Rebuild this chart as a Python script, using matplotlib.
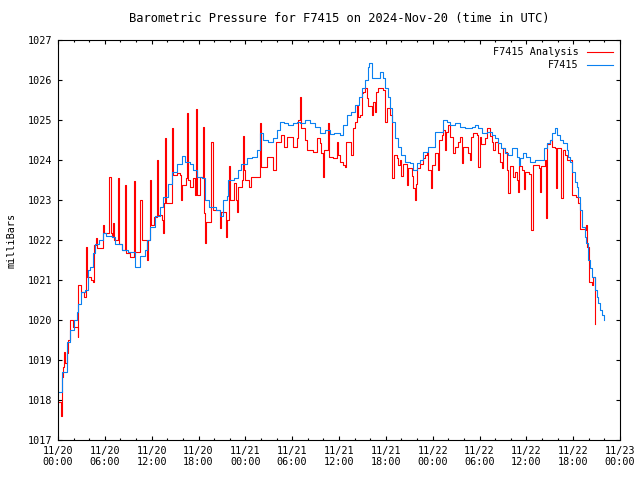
import matplotlib
matplotlib.use("Agg")
import matplotlib.pyplot as plt
from matplotlib.ticker import MultipleLocator

# hours since 2024-11-20 00:00 UTC, pressure in mb
station_hours = [0.0, 0.5, 1.1, 1.5, 2.0, 2.4, 2.6, 3.0, 3.5, 3.9, 4.1, 4.5, 4.7, 5.2, 5.8,
                 6.2, 6.9, 7.3, 8.2, 9.0, 9.9, 10.5, 11.1, 11.4, 11.8, 12.4, 13.1, 13.5, 14.1,
                 14.6, 15.2, 15.85, 16.3, 16.9, 17.3, 17.8, 18.4, 18.8, 19.3, 19.7, 20.3, 20.75,
                 21.2, 21.6, 21.8, 22.5, 23.1, 23.5, 24.2, 24.8, 25.45, 25.9, 26.3, 26.9, 27.6,
                 28.0, 28.4, 28.9, 29.5, 30.1, 30.6, 31.0, 31.6, 32.3, 32.9, 33.6, 34.2, 34.8,
                 35.4, 36.1, 36.5, 37.0, 37.6, 38.0, 38.5, 38.9, 39.3, 39.75, 39.9, 40.2, 40.8,
                 41.25, 41.7, 41.9, 42.3, 42.5, 42.75, 43.2, 43.6, 44.0, 44.45, 45.1, 45.5,
                 45.95, 46.4, 46.8, 47.4, 48.3, 49.35, 49.8, 50.2, 50.9, 51.5, 52.1, 53.0, 53.4,
                 53.8, 54.3, 54.9, 55.6, 56.0, 56.4, 56.8, 57.3, 57.7, 58.1, 58.8, 59.0, 59.2,
                 59.6, 60.0, 60.5, 61.1, 62.2, 62.6, 63.0, 63.25, 63.7, 63.9, 64.3, 64.7, 65.2,
                 65.4, 65.6, 65.8, 66.2, 66.45, 66.65, 66.9, 67.1, 67.5, 67.7, 67.9, 68.1, 68.4,
                 68.8, 69.0, 69.2, 69.4, 69.7, 69.9]
station_mb = [1018.2, 1018.7, 1019.46, 1019.75, 1020.0, 1020.2, 1020.4, 1020.7, 1020.75, 1021.25,
              1021.33, 1021.67, 1021.9, 1022.0, 1022.17, 1022.1, 1022.08, 1021.9, 1021.75, 1021.7,
              1021.33, 1021.6, 1021.75, 1022.0, 1022.33, 1022.6, 1022.83, 1023.08, 1023.4, 1023.7,
              1023.9, 1024.1, 1023.95, 1023.9, 1023.75, 1023.58, 1023.55, 1023.0, 1022.83, 1022.83,
              1022.75, 1022.6, 1023.0, 1023.1, 1023.5, 1023.55, 1023.75, 1023.9, 1024.04, 1024.08,
              1024.25, 1024.67, 1024.5, 1024.46, 1024.54, 1024.75, 1024.96, 1024.92, 1024.88,
              1024.92, 1024.96, 1024.92, 1025.0, 1024.92, 1024.83, 1024.67, 1024.75, 1024.65,
              1024.67, 1024.63, 1024.88, 1025.13, 1025.2, 1025.38, 1025.58, 1025.79, 1026.0,
              1026.33, 1026.42, 1026.04, 1026.04, 1026.2, 1026.04, 1025.79, 1025.58, 1025.29,
              1024.96, 1024.54, 1024.33, 1024.13, 1023.96, 1023.92, 1023.75, 1023.92, 1024.0,
              1024.2, 1024.33, 1024.7, 1025.0, 1024.96, 1024.88, 1024.92, 1024.83, 1024.8, 1024.83,
              1024.88, 1024.8, 1024.67, 1024.7, 1024.63, 1024.54, 1024.42, 1024.29, 1024.17,
              1024.13, 1024.29, 1024.08, 1023.88, 1024.04, 1024.17, 1024.08, 1023.96, 1024.0,
              1024.29, 1024.42, 1024.5, 1024.67, 1024.8, 1024.63, 1024.5, 1024.42, 1024.25,
              1024.08, 1023.96, 1023.7, 1023.46, 1023.33, 1023.08, 1022.75, 1022.33, 1022.08,
              1021.92, 1021.5, 1021.29, 1021.08, 1020.75, 1020.58, 1020.42, 1020.25, 1020.13,
              1020.0]

analysis_hours = [0.0, 0.35, 0.45, 0.65, 0.8, 0.95, 1.15, 1.3, 1.55, 1.75, 1.95, 2.5, 2.6, 2.9,
                  3.3, 3.6, 3.75, 4.2, 4.45, 4.6, 4.85, 5.0, 5.5, 5.8, 5.95, 6.35, 6.5, 6.75,
                  6.9, 7.0, 7.2, 7.65, 7.8, 8.2, 8.6, 8.75, 9.2, 9.75, 9.9, 10.3, 10.55, 10.7,
                  11.4, 11.5, 11.75, 11.9, 12.3, 12.7, 12.85, 13.3, 13.4, 13.55, 13.75, 13.9,
                  14.6, 14.75, 15.3, 15.6, 15.75, 15.9, 16.4, 16.5, 16.65, 16.95, 17.3, 17.55,
                  17.65, 17.8, 18.2, 18.55, 18.7, 18.85, 18.95, 19.5, 19.65, 19.8, 20.25, 20.7,
                  20.9, 21.5, 21.55, 21.7, 21.9, 22.05, 22.5, 22.85, 22.9, 23.0, 23.6, 23.7,
                  23.85, 24.0, 24.5, 24.7, 25.7, 25.85, 26.0, 26.4, 26.8, 27.3, 27.5, 27.9, 28.4,
                  28.6, 29.0, 29.4, 30.0, 30.15, 30.6, 30.8, 31.0, 31.15, 31.6, 31.9, 32.3, 32.7,
                  33.15, 33.6, 33.75, 33.9, 34.05, 34.4, 34.6, 34.75, 35.25, 35.7, 35.9, 36.1,
                  36.55, 36.8, 36.95, 37.6, 37.8, 38.05, 38.25, 38.45, 38.7, 38.9, 39.1, 39.3,
                  39.55, 39.75, 40.2, 40.4, 40.6, 40.8, 41.05, 41.7, 41.9, 42.1, 42.5, 42.75,
                  42.85, 43.0, 43.4, 43.6, 43.8, 44.0, 44.2, 44.65, 44.85, 45.3, 45.5, 45.7,
                  45.85, 46.0, 46.4, 46.8, 47.0, 47.25, 47.45, 47.75, 47.95, 48.3, 48.7, 48.85,
                  49.15, 49.35, 49.55, 49.75, 50.0, 50.2, 50.6, 50.85, 51.3, 51.5, 51.7, 51.9,
                  52.55, 52.75, 52.95, 53.2, 53.65, 53.85, 54.0, 54.25, 54.7, 54.9, 55.3, 55.55,
                  55.75, 55.95, 56.4, 56.6, 56.85, 56.95, 57.25, 57.5, 57.7, 57.85, 58.3, 58.55,
                  58.75, 58.9, 59.05, 59.4, 59.7, 59.85, 60.4, 60.65, 60.8, 61.6, 61.75, 61.9,
                  62.35, 62.5, 62.65, 63.0, 63.25, 63.65, 63.75, 63.9, 64.35, 64.5, 64.7, 64.95,
                  65.2, 65.6, 65.8, 66.4, 66.6, 66.85, 67.6, 67.7, 67.8, 68.0, 68.35, 68.5, 68.75,
                  68.85]
analysis_mb = [1017.96, 1017.6, 1018.58, 1018.83, 1019.2, 1018.92, 1019.17, 1019.5, 1020.0,
               1020.0, 1019.83, 1019.58, 1020.88, 1020.7, 1020.58, 1021.83, 1021.08, 1021.0,
               1020.96, 1021.88, 1022.04, 1021.79, 1021.8, 1022.38, 1022.17, 1022.17, 1023.58,
               1022.17, 1022.08, 1022.42, 1022.0, 1023.54, 1021.9, 1021.75, 1023.38, 1021.67,
               1021.58, 1023.48, 1021.7, 1021.7, 1023.0, 1022.0, 1021.5, 1022.0, 1023.5, 1022.38,
               1022.58, 1024.0, 1022.63, 1022.5, 1022.17, 1022.92, 1024.55, 1022.92, 1024.79,
               1023.63, 1023.67, 1023.63, 1023.0, 1023.38, 1023.54, 1025.17, 1023.5, 1023.33,
               1023.54, 1023.13, 1025.27, 1023.13, 1023.58, 1024.83, 1022.67, 1021.92, 1022.46,
               1022.46, 1024.46, 1022.75, 1022.75, 1022.29, 1022.71, 1022.5, 1022.08, 1022.5,
               1023.85, 1023.0, 1023.42, 1023.0, 1022.7, 1023.33, 1023.5, 1024.6, 1023.75, 1023.5,
               1023.33, 1023.58, 1023.58, 1024.92, 1023.83, 1023.83, 1024.08, 1024.08, 1023.75,
               1024.46, 1024.46, 1024.63, 1024.33, 1024.58, 1024.58, 1024.33, 1024.54, 1025.0,
               1025.58, 1024.79, 1024.5, 1024.25, 1024.25, 1024.21, 1024.54, 1024.42, 1024.17,
               1023.58, 1024.25, 1024.25, 1024.92, 1024.08, 1024.04, 1024.46, 1024.13, 1023.96,
               1023.88, 1023.83, 1024.46, 1024.13, 1024.79, 1024.96, 1025.38, 1025.08, 1025.13,
               1025.67, 1025.71, 1025.79, 1025.54, 1025.35, 1025.13, 1025.46, 1025.2, 1025.71,
               1025.79, 1025.75, 1024.96, 1025.29, 1025.13, 1024.96, 1023.54, 1024.13, 1024.04,
               1023.88, 1024.0, 1023.6, 1023.9, 1023.38, 1023.79, 1023.6, 1023.29, 1023.0, 1023.4,
               1023.79, 1023.9, 1024.04, 1024.13, 1024.2, 1023.75, 1023.29, 1023.88, 1024.17,
               1023.75, 1024.5, 1024.63, 1024.75, 1024.25, 1024.7, 1024.88, 1024.58, 1024.17,
               1024.33, 1024.45, 1024.58, 1023.92, 1024.33, 1024.17, 1024.0, 1024.58, 1024.67,
               1024.62, 1023.83, 1024.58, 1024.4, 1024.55, 1024.79, 1024.6, 1024.45, 1024.25,
               1024.45, 1024.17, 1023.96, 1023.79, 1024.3, 1024.2, 1023.75, 1023.17, 1023.85,
               1023.58, 1023.7, 1023.5, 1023.21, 1023.85, 1023.75, 1023.27, 1023.71, 1023.65,
               1022.25, 1023.88, 1023.8, 1023.21, 1023.85, 1024.0, 1022.54, 1024.4, 1024.5,
               1024.33, 1024.3, 1023.3, 1024.3, 1024.3, 1023.04, 1024.25, 1024.13, 1024.0, 1024.0,
               1023.13, 1023.08, 1022.92, 1022.27, 1022.25, 1022.38, 1021.83, 1020.96, 1020.88,
               1021.08, 1020.42, 1019.9]

x_ticks = [0, 6, 12, 18, 24, 30, 36, 42, 48, 54, 60, 66, 72]
x_labels = ["11/20\n00:00", "11/20\n06:00", "11/20\n12:00", "11/20\n18:00",
            "11/21\n00:00", "11/21\n06:00", "11/21\n12:00", "11/21\n18:00",
            "11/22\n00:00", "11/22\n06:00", "11/22\n12:00", "11/22\n18:00",
            "11/23\n00:00"]

plt.rcParams['font.family'] = 'DejaVu Sans Mono'
plt.rcParams['font.size'] = 7.3

fig = plt.figure(figsize=(6.4, 4.8), dpi=100)
ax = fig.add_axes([58 / 640, 40 / 480, 562 / 640, 400 / 480])

ax.plot(analysis_hours, analysis_mb, drawstyle='steps-post', color='#ff0000',
        lw=0.8, label='F7415 Analysis')
ax.plot(station_hours, station_mb, drawstyle='steps-post', color='#0a80f0',
        lw=0.8, label='F7415')

ax.set_xlim(0, 72)
ax.set_ylim(1017, 1027)
ax.set_xticks(x_ticks)
ax.set_xticklabels(x_labels)
ax.xaxis.set_minor_locator(MultipleLocator(2))
ax.set_yticks(range(1017, 1028))
ax.tick_params(which='both', direction='in', top=True, right=True, width=0.8)
ax.tick_params(which='major', length=3.2, pad=4)
ax.tick_params(which='minor', length=1.6)
for s in ax.spines.values():
    s.set_linewidth(0.8)

ax.set_ylabel('milliBars', labelpad=8)
ax.set_title('Barometric Pressure for F7415 on 2024-Nov-20 (time in UTC)', pad=13)
ax.legend(loc='upper right', frameon=False, markerfirst=False, handlelength=2.6,
          handletextpad=0.8, labelspacing=0.3, borderaxespad=0.3)

fig.savefig('out.png', dpi=100)
